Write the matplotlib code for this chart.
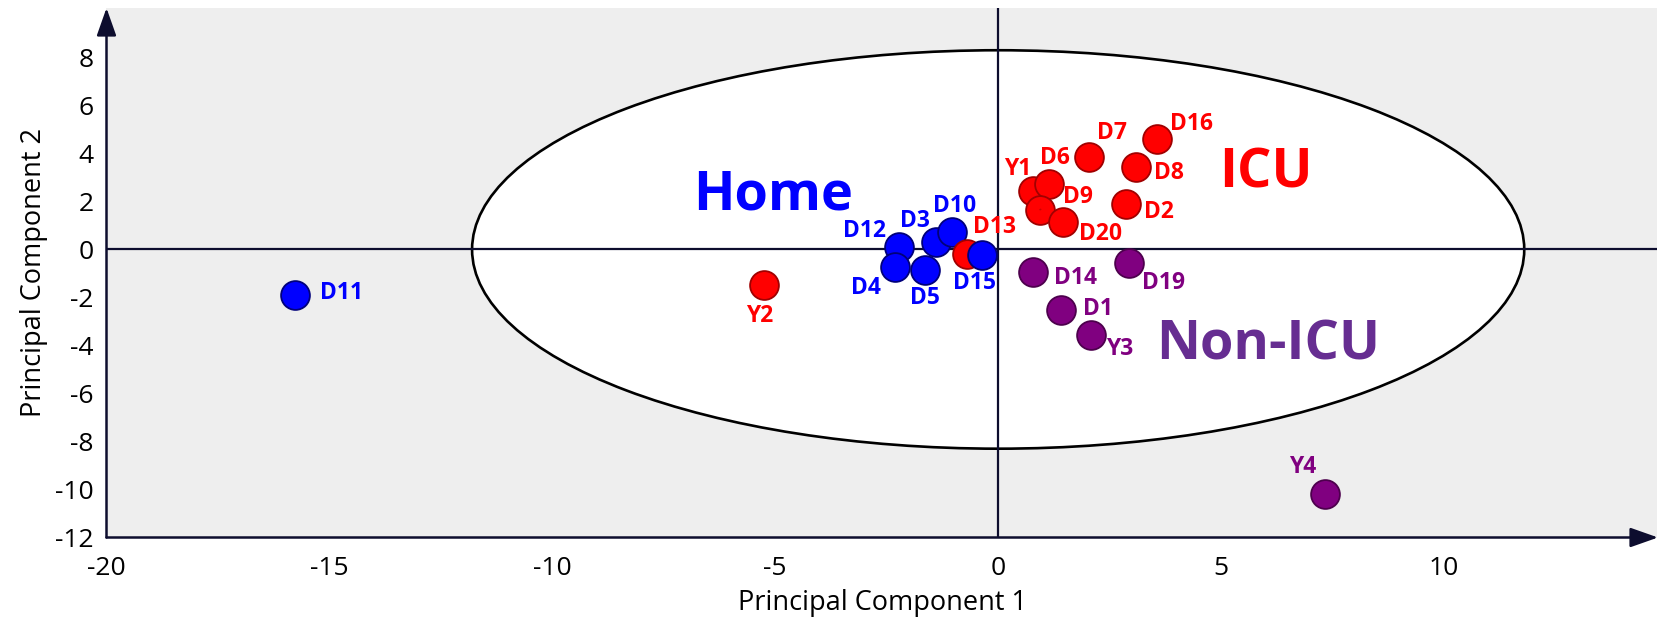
import matplotlib
matplotlib.use("Agg")
import matplotlib.pyplot as plt
from matplotlib.patches import Ellipse

plt.rcParams['font.family'] = ['Open Sans', 'DejaVu Sans']
plt.rcParams['axes.unicode_minus'] = False

# sample scores on the first two principal components
names = ["D11", "Y2", "D12", "D4", "D5", "D3", "D10", "D13", "D15",
         "Y1", "D6", "D9", "D20", "D7", "D16", "D8", "D2",
         "D14", "D19", "D1", "Y3", "Y4"]
pc1 = [-15.77, -5.26, -2.22, -2.32, -1.65, -1.39, -1.03, -0.71, -0.36,
       0.78, 1.13, 0.94, 1.46, 2.03, 3.56, 3.09, 2.87,
       0.78, 2.93, 1.41, 2.08, 7.34]
pc2 = [-1.88, -1.48, 0.10, -0.74, -0.85, 0.31, 0.72, -0.18, -0.21,
       2.44, 2.74, 1.66, 1.14, 3.85, 4.59, 3.44, 1.88,
       -0.95, -0.56, -2.52, -3.56, -10.17]
group = ["home", "icu", "home", "home", "home", "home", "home", "icu", "home",
         "icu", "icu", "icu", "icu", "icu", "icu", "icu", "icu",
         "non", "non", "non", "non", "non"]

# label offsets from each point, in pixels
label_dx = [46, -4, -35, -29, 0, -21, 2, 28, -8,
            -15, 6, 38, 37, 23, 35, 33, 33,
            43, 35, 37, 29, -23]
label_dy = [2, -31, 16, -21, -28, 21, 26, 27, -28,
            22, 26, 13, -12, 24, 15, -6, -8,
            -6, -20, 1, -14, 27]

fill = {"home": "#0000ff", "icu": "#ff0000", "non": "#800080"}
edge = {"home": "#00007a", "icu": "#a00000", "non": "#4d004d"}

fig = plt.figure(figsize=(16.58, 6.27), dpi=100)
ax = fig.add_axes([106.5 / 1658, (627 - 537.5) / 627, (1658 - 106.5) / 1658, (537.5 - 8) / 627])
ax.set_xlim(-20, 14.8)
ax.set_ylim(-12, 10.06)
ax.set_facecolor("#eeeeee")
for s in ax.spines.values():
    s.set_visible(False)

# confidence ellipse
ax.add_patch(Ellipse((0.0, 0.0), 2 * 11.8, 2 * 8.3, facecolor="white",
                     edgecolor="black", lw=1.9, zorder=1))

axis_col = "#0d0d2e"
ax.axhline(0, color=axis_col, lw=1.6, zorder=2)
ax.axvline(0, color=axis_col, lw=1.6, zorder=2)

# axes with arrow heads
arrow = dict(arrowstyle="-|>,head_length=0.85,head_width=0.3", mutation_scale=20,
             color=axis_col, lw=1.8, shrinkA=0, shrinkB=0)
ax.annotate("", xy=(1.0, 0), xytext=(0, 0), xycoords="axes fraction",
            arrowprops=arrow, annotation_clip=False, zorder=5)
ax.annotate("", xy=(0, 1.0), xytext=(0, 0), xycoords="axes fraction",
            arrowprops=arrow, annotation_clip=False, zorder=5)

for i, n in enumerate(names):
    g = group[i]
    ax.scatter(pc1[i], pc2[i], s=430, c=fill[g], edgecolors=edge[g],
               linewidths=1.3, zorder=3)
for i, n in enumerate(names):
    g = group[i]
    props = None
    if n == "D9":
        props = dict(arrowstyle="-", color="#cc0000", lw=1.2,
                     shrinkA=15, shrinkB=0)
    ax.annotate(n, xy=(pc1[i], pc2[i]), xytext=(label_dx[i], label_dy[i]),
                textcoords="offset pixels", ha="center", va="center",
                fontsize=16.5, fontweight="bold", color=fill[g],
                arrowprops=props, zorder=4)

ax.text(-5.05, 2.25, "Home", color="#0000ff", fontsize=39, fontweight="bold",
        ha="center", va="center", zorder=4)
ax.text(6.0, 3.15, "ICU", color="#ff0000", fontsize=39, fontweight="bold",
        ha="center", va="center", zorder=4)
ax.text(6.05, -4.0, "Non-ICU", color="#662d91", fontsize=39, fontweight="bold",
        ha="center", va="center", zorder=4)

ax.set_xticks([-20, -15, -10, -5, 0, 5, 10])
ax.set_yticks([-12, -10, -8, -6, -4, -2, 0, 2, 4, 6, 8])
ax.tick_params(length=0, labelsize=19, pad=13)
ax.tick_params(axis="y", pad=9)
ax.set_xlabel("Principal Component 1", fontsize=19.5, labelpad=6)
ax.set_ylabel("Principal Component 2", fontsize=19.5)
ax.yaxis.set_label_coords(-0.038, 0.5)

fig.savefig("out.png", dpi=100)
